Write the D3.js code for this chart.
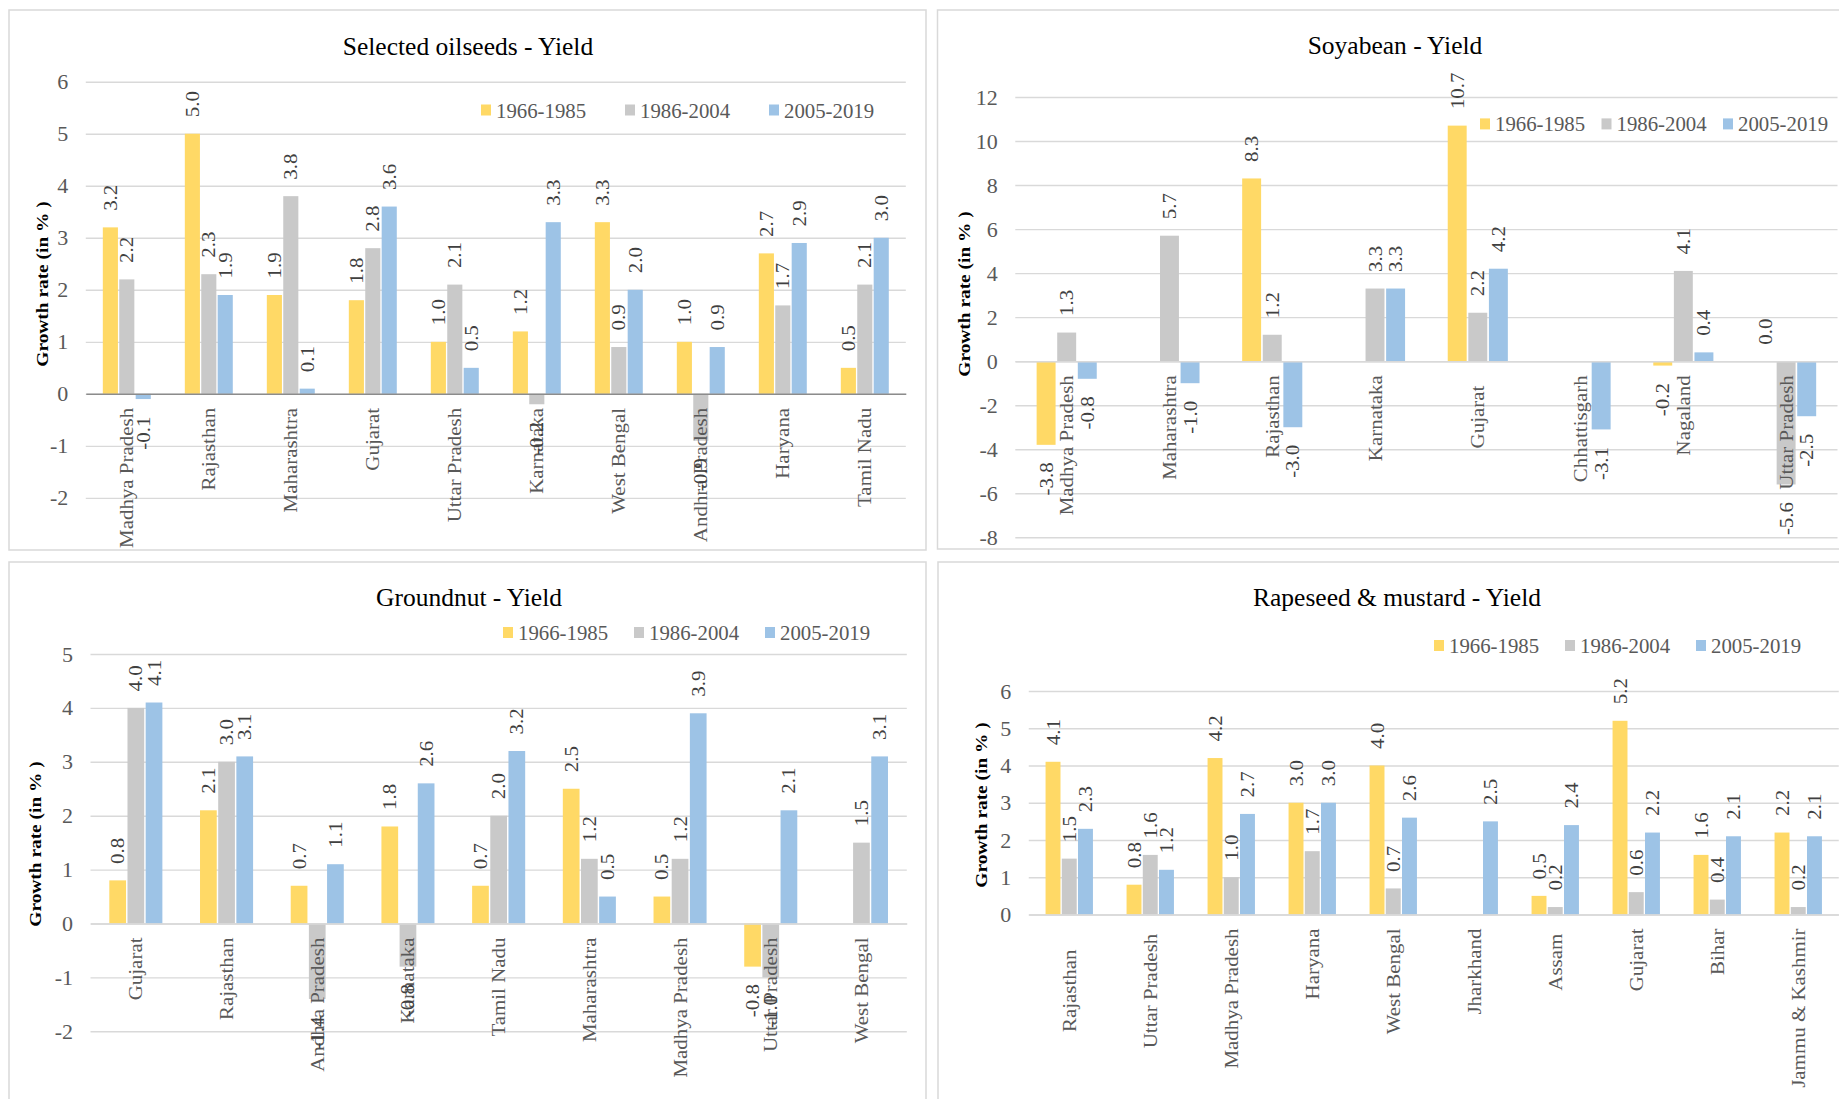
<!DOCTYPE html>
<html>
<head>
<meta charset="utf-8">
<title>State-wise yield growth rates of oilseeds</title>
<script src="https://cdn.jsdelivr.net/npm/d3@7"></script>
<style>
  html, body { margin: 0; padding: 0; background: #ffffff; }
  svg { display: block; }
  svg text { font-family: "Liberation Serif", "Times New Roman", serif; }
  text.cat { white-space: pre; }
</style>
</head>
<body>
<svg id="chart" width="1839" height="1099"></svg>
<script>
// ---- Data -----------------------------------------------------------
const periods = ["1966-1985", "1986-2004", "2005-2019"];
const periodColors = ["#FFD966", "#C9C9C9", "#9DC3E6"];

// Selected oilseeds - yield growth rate (%)
const oilseedStates = ["Madhya Pradesh", "Rajasthan", "Maharashtra", "Gujarat", "Uttar Pradesh",
                       "Karnataka", "West Bengal", "Andhra Pradesh", "Haryana", "Tamil Nadu"];
const oilseed1966 = [3.2, 5.0, 1.9, 1.8, 1.0, 1.2, 3.3, 1.0, 2.7, 0.5];
const oilseed1986 = [2.2, 2.3, 3.8, 2.8, 2.1, -0.2, 0.9, -0.9, 1.7, 2.1];
const oilseed2005 = [-0.1, 1.9, 0.1, 3.6, 0.5, 3.3, 2.0, 0.9, 2.9, 3.0];
const oilseedTicks = [-2, -1, 0, 1, 2, 3, 4, 5, 6];

// Soyabean - yield growth rate (%)
const soyStates = ["Madhya Pradesh", "Maharashtra", "Rajasthan", "Karnataka", "Gujarat  ",
                   "Chhattisgarh", "Nagaland", "Uttar Pradesh"];
const soy1966 = [-3.8, null, 8.3, null, 10.7, null, -0.2, 0.0];
const soy1986 = [1.3, 5.7, 1.2, 3.3, 2.2, null, 4.1, -5.6];
const soy2005 = [-0.8, -1.0, -3.0, 3.3, 4.2, -3.1, 0.4, -2.5];
const soyTicks = [-8, -6, -4, -2, 0, 2, 4, 6, 8, 10, 12];

// Groundnut - yield growth rate (%)
const groundnutStates = ["Gujarat", "Rajasthan", "Andhra Pradesh", "Karnataka", "Tamil Nadu",
                         "Maharashtra", "Madhya Pradesh", "Uttar Pradesh", "West Bengal"];
const groundnut1966 = [0.8, 2.1, 0.7, 1.8, 0.7, 2.5, 0.5, -0.8, null];
const groundnut1986 = [4.0, 3.0, -1.4, -0.8, 2.0, 1.2, 1.2, -1.0, 1.5];
const groundnut2005 = [4.1, 3.1, 1.1, 2.6, 3.2, 0.5, 3.9, 2.1, 3.1];
const groundnutTicks = [-2, -1, 0, 1, 2, 3, 4, 5];

// Rapeseed & mustard - yield growth rate (%)
const mustardStates = ["Rajasthan    ", "Uttar Pradesh ", "Madhya Pradesh", "Haryana", "West Bengal",
                       "Jharkhand", "Assam ", "Gujarat", "Bihar", "Jammu & Kashmir"];
const mustard1966 = [4.1, 0.8, 4.2, 3.0, 4.0, null, 0.5, 5.2, 1.6, 2.2];
const mustard1986 = [1.5, 1.6, 1.0, 1.7, 0.7, null, 0.2, 0.6, 0.4, 0.2];
const mustard2005 = [2.3, 1.2, 2.7, 3.0, 2.6, 2.5, 2.4, 2.2, 2.1, 2.1];
const mustardTicks = [0, 1, 2, 3, 4, 5, 6];

// ---- Layout of the four panels ---------------------------------------
const panels = [
  { title: "Selected oilseeds - Yield", states: oilseedStates,
    values: [oilseed1966, oilseed1986, oilseed2005], ticks: oilseedTicks,
    frame: [9, 10, 917, 540], plotX: [85.8, 905.8], plotY: [497.9, 81.7],
    titleAt: [468, 54.5], legendAt: [481, 117.5], legendStep: 144,
    yTitleAt: [42, 284], axisColor: "#8c8c8c" },
  { title: "Soyabean - Yield", states: soyStates,
    values: [soy1966, soy1986, soy2005], ticks: soyTicks,
    frame: [937.5, 10, 1000, 539], plotX: [1015.3, 1837.5], plotY: [537.3, 97],
    titleAt: [1395, 54], legendAt: [1480, 131.4], legendStep: 121.5,
    yTitleAt: [964, 294], axisColor: "#d9d9d9" },
  { title: "Groundnut - Yield", states: groundnutStates,
    values: [groundnut1966, groundnut1986, groundnut2005], ticks: groundnutTicks,
    frame: [9, 562, 917, 700], plotX: [90.5, 906.8], plotY: [1031.3, 654],
    titleAt: [469, 606], legendAt: [503, 640], legendStep: 131,
    yTitleAt: [35, 844], axisColor: "#d9d9d9" },
  { title: "Rapeseed & mustard - Yield", states: mustardStates,
    values: [mustard1966, mustard1986, mustard2005], ticks: mustardTicks,
    frame: [938, 562, 1000, 700], plotX: [1028.75, 1838.75], plotY: [914.5, 691],
    titleAt: [1397, 606], legendAt: [1434, 653], legendStep: 131,
    yTitleAt: [981, 805], axisColor: "#d9d9d9" }
];

// Rotated labels are drawn slightly elongated along their length
const K = 1.12;
const LABEL_SIZE = 18.7;
const fmt = v => v.toFixed(1);

const svg = d3.select("#chart");
svg.append("rect").attr("width", 1839).attr("height", 1099).attr("fill", "#ffffff");

panels.forEach(p => {
  const g = svg.append("g");
  const [left, right] = p.plotX;
  const dom = d3.extent(p.ticks);

  const y = d3.scaleLinear().domain(dom).range(p.plotY);
  const x0 = d3.scaleBand().domain(p.states).range([left, right]).padding(0);
  const groupW = x0.step() * 0.585;
  const x1 = d3.scaleBand().domain(periods)
    .range([(x0.step() - groupW) / 2, (x0.step() + groupW) / 2]).paddingInner(0.08);

  // panel frame
  g.append("rect")
    .attr("x", p.frame[0]).attr("y", p.frame[1])
    .attr("width", p.frame[2]).attr("height", p.frame[3])
    .attr("fill", "none").attr("stroke", "#d9d9d9").attr("stroke-width", 1.5);

  // horizontal gridlines
  g.append("g")
    .attr("transform", `translate(${left},0)`)
    .call(d3.axisLeft(y).tickValues(p.ticks).tickSize(-(right - left)).tickFormat(""))
    .call(a => a.select(".domain").remove())
    .call(a => a.selectAll("line").attr("stroke", "#d9d9d9").attr("stroke-width", 1.4));

  // y tick labels
  g.append("g")
    .attr("transform", `translate(${left},0)`)
    .call(d3.axisLeft(y).tickValues(p.ticks).tickSize(0).tickPadding(17.5).tickFormat(d => String(d)))
    .attr("font-family", null).attr("font-size", null)
    .call(a => a.select(".domain").remove())
    .call(a => a.selectAll("text")
      .attr("font-size", 22).attr("fill", "#595959"));

  // bars
  const rows = [];
  p.states.forEach((s, i) => {
    periods.forEach((per, j) => {
      const v = p.values[j][i];
      if (v !== null && v !== undefined) rows.push({ state: s, period: per, idx: j, v });
    });
  });

  g.append("g").selectAll("rect").data(rows).join("rect")
    .attr("x", d => x0(d.state) + x1(d.period))
    .attr("width", x1.bandwidth())
    .attr("y", d => Math.min(y(0), y(d.v)))
    .attr("height", d => Math.abs(y(d.v) - y(0)))
    .attr("fill", d => periodColors[d.idx]);

  // category axis along the zero line
  g.append("g")
    .attr("transform", `translate(0,${y(0)})`)
    .call(d3.axisBottom(x0).tickSize(0).tickSizeOuter(0))
    .attr("font-family", null).attr("font-size", null)
    .call(a => a.select(".domain").attr("stroke", p.axisColor).attr("stroke-width", 1.5))
    .call(a => a.selectAll("text")
      .attr("class", "cat")
      .attr("x", 0).attr("y", 0).attr("dy", "0.35em")
      .attr("text-anchor", "end")
      .attr("transform", `translate(0,14) scale(1,${K}) rotate(-90)`)
      .attr("font-size", LABEL_SIZE).attr("fill", "#595959"));

  // value labels at the bar ends
  g.append("g").selectAll("text").data(rows).join("text")
    .attr("transform", d => {
      const cx = x0(d.state) + x1(d.period) + x1.bandwidth() / 2;
      const cy = d.v >= 0 ? y(d.v) - 16.5 : y(d.v) + 17.5;
      return `translate(${cx},${cy}) scale(1,${K}) rotate(-90)`;
    })
    .attr("dy", "0.35em")
    .attr("text-anchor", d => d.v >= 0 ? "start" : "end")
    .attr("font-size", LABEL_SIZE).attr("fill", "#404040")
    .text(d => fmt(d.v));

  // title
  g.append("text")
    .attr("x", p.titleAt[0]).attr("y", p.titleAt[1])
    .attr("text-anchor", "middle")
    .attr("font-size", 25.5).attr("fill", "#000000")
    .text(p.title);

  // y axis title
  g.append("text")
    .attr("transform", `translate(${p.yTitleAt[0]},${p.yTitleAt[1]}) scale(1,${K}) rotate(-90)`)
    .attr("dy", "0.35em")
    .attr("text-anchor", "middle")
    .attr("font-size", 17.3).attr("font-weight", "bold").attr("fill", "#000000")
    .text("Growth rate (in % )");

  // legend
  const lg = g.append("g").selectAll("g").data(periods).join("g")
    .attr("transform", (d, i) => `translate(${p.legendAt[0] + i * p.legendStep},${p.legendAt[1]})`);
  lg.append("rect")
    .attr("x", 0).attr("y", -13).attr("width", 10).attr("height", 11)
    .attr("fill", (d, i) => periodColors[i]);
  lg.append("text")
    .attr("x", 15).attr("y", 0)
    .attr("font-size", 20.8).attr("fill", "#595959")
    .text(d => d);
});
</script>
</body>
</html>
